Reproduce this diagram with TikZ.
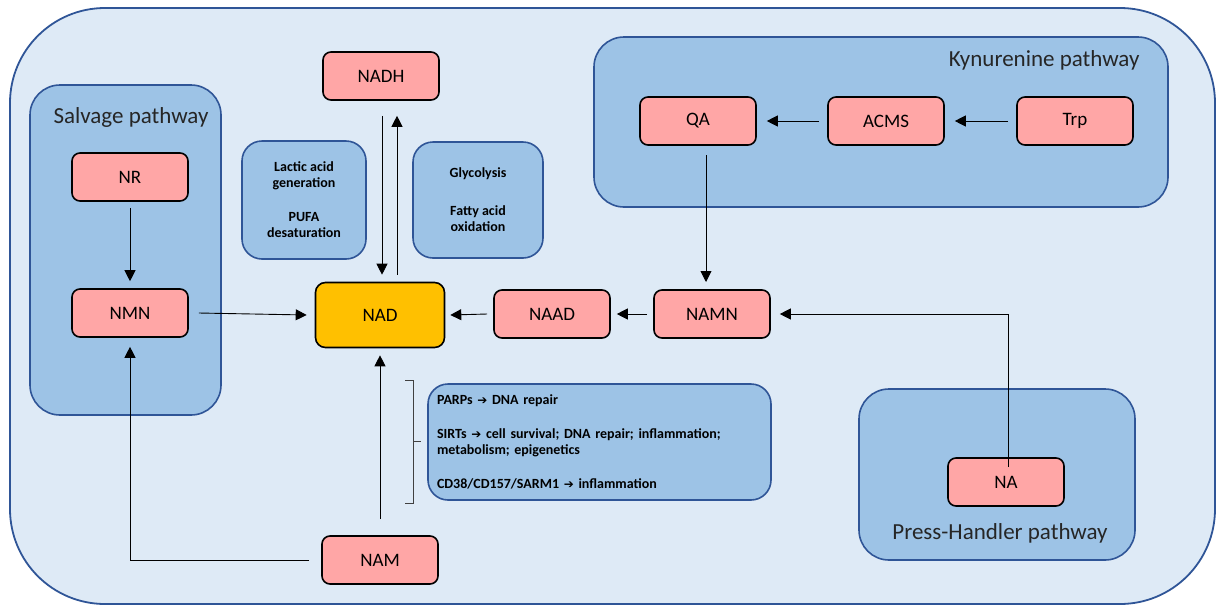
\documentclass[tikz,border=0pt]{standalone}
\usepackage{fontspec}
\setmainfont{Carlito}
\newfontfamily\symfont{DejaVu Sans}
\usepackage{tikz}
\usetikzlibrary{positioning, arrows.meta}

\definecolor{outerfill}{HTML}{DEEAF6}
\definecolor{boxblue}{HTML}{9DC3E6}
\definecolor{edgeblue}{HTML}{2F5597}
\definecolor{molpink}{HTML}{FFA6A6}
\definecolor{nadgold}{HTML}{FFC000}

\tikzset{
  pathbox/.style={draw=edgeblue, fill=boxblue, line width=1.6pt, rounded corners=30pt},
  notebox/.style={draw=edgeblue, fill=boxblue, line width=1.6pt, rounded corners=20pt,
    font=\bfseries\fontsize{14}{16}\selectfont},
  mol/.style={draw=black, fill=molpink, line width=1.6pt, rounded corners=8pt,
    minimum width=116pt, minimum height=48pt, font=\fontsize{19}{22}\selectfont},
  title/.style={font=\fontsize{23}{26}\selectfont, text=black!85},
  conn/.style={line width=0.9pt, -{Triangle[width=11pt,length=11pt]}}
}
\newcommand{\thickarrow}{{\symfont\fontsize{12}{16}\selectfont ➔}}

\begin{document}
\begin{tikzpicture}[x=1pt, y=-1pt]
  \useasboundingbox (0,0) rectangle (1224,606);

  % Cell outline
  \draw[draw=edgeblue, fill=outerfill, line width=1.8pt, rounded corners=95pt] (10,8) rectangle (1215,604);

  % Pathway boxes
  \draw[pathbox] (30,85) rectangle (221,415);
  \draw[pathbox] (594,37) rectangle (1168,207);
  \draw[pathbox] (859,389) rectangle (1135,560);
  \node[title] (salvage) at (131,117) {Salvage pathway};
  \node[title, anchor=east] (kyn) at (1143,60) {Kynurenine pathway};
  \node[title] (press) at (1000,533) {Press-Handler pathway};

  % Note boxes
  \node[notebox, align=center, minimum width=124pt, minimum height=118pt] (lactic) at (304,200)
    {Lactic acid\\generation\\[18pt]PUFA\\desaturation};
  \node[notebox, align=center, minimum width=130pt, minimum height=116pt] (glyco) at (478,200)
    {Glycolysis\\[22pt]Fatty acid\\oxidation};
  \node[notebox, align=left, text width=325pt, minimum width=343pt, minimum height=116pt] (enzymes) at (599.5,442)
    {PARPs \thickarrow{} DNA repair\\[18pt]SIRTs \thickarrow{} cell survival; DNA repair; inflammation;\\metabolism; epigenetics\\[18pt]CD38/CD157/SARM1 \thickarrow{} inflammation};

  % Metabolites
  \foreach \n/\x/\y in {NADH/381/76, NR/130/177, NMN/130/313, NAAD/552/314, NAMN/712/314,
      QA/698/121, ACMS/886/121, Trp/1075/121, NA/1006/482, NAM/380/560} {
    \node[mol] (\n) at (\x,\y) {\n};
  }
  \node[mol, fill=nadgold, minimum width=129pt, minimum height=65pt, rounded corners=10pt] (NAD) at (380,315) {NAD};

  % Helper points
  \coordinate (nadhL) at ([xshift=1pt, yshift=-15pt]NADH.south);
  \coordinate (nadhR) at ([xshift=16pt, yshift=-15pt]NADH.south);
  \coordinate (nadL) at ([xshift=2pt, yshift=7pt]NAD.north);
  \coordinate (nadR) at ([xshift=17pt, yshift=7pt]NAD.north);
  \coordinate (qaOut) at (706,155);
  \coordinate (namnIn) at (706,282);
  \coordinate (naTurn) at (1008,314);
  \coordinate (namTurn) at (130,560);

  % Reactions
  \draw[conn] (nadhL) -- (nadL);
  \draw[conn] (nadR) -- (nadhR);
  \draw[conn] ([yshift=-6pt]NR.south) -- ([yshift=7pt]NMN.north);
  \draw[conn] ([xshift=10pt]NMN.east) -- ([xshift=-8pt]NAD.west);
  \draw[conn] ([xshift=-6pt]NAAD.west) -- ([xshift=5pt]NAD.east);
  \draw[conn] ([xshift=-6pt]NAMN.west) -- ([xshift=6pt]NAAD.east);
  \draw[conn] ([xshift=-8pt]ACMS.west) -- ([xshift=10pt]QA.east);
  \draw[conn] ([xshift=-8pt]Trp.west) -- ([xshift=10pt]ACMS.east);
  \draw[conn] (qaOut) -- (namnIn);
  \draw[conn] ([xshift=2pt, yshift=-10pt]NA.north) -- (naTurn) -- ([xshift=9pt]NAMN.east);
  \draw[conn] ([xshift=-12pt]NAM.west) -- (namTurn) -- ([yshift=-9pt]NMN.south);
  \draw[conn] ([yshift=16pt]NAM.north) -- ([yshift=-7pt]NAD.south);

  % Bracket to the enzyme box
  \draw[line width=0.9pt, black!75] (405,380) -- (413,380) -- (413,503) -- (405,503)
    (413,441) -- (421,441);
\end{tikzpicture}
\end{document}
